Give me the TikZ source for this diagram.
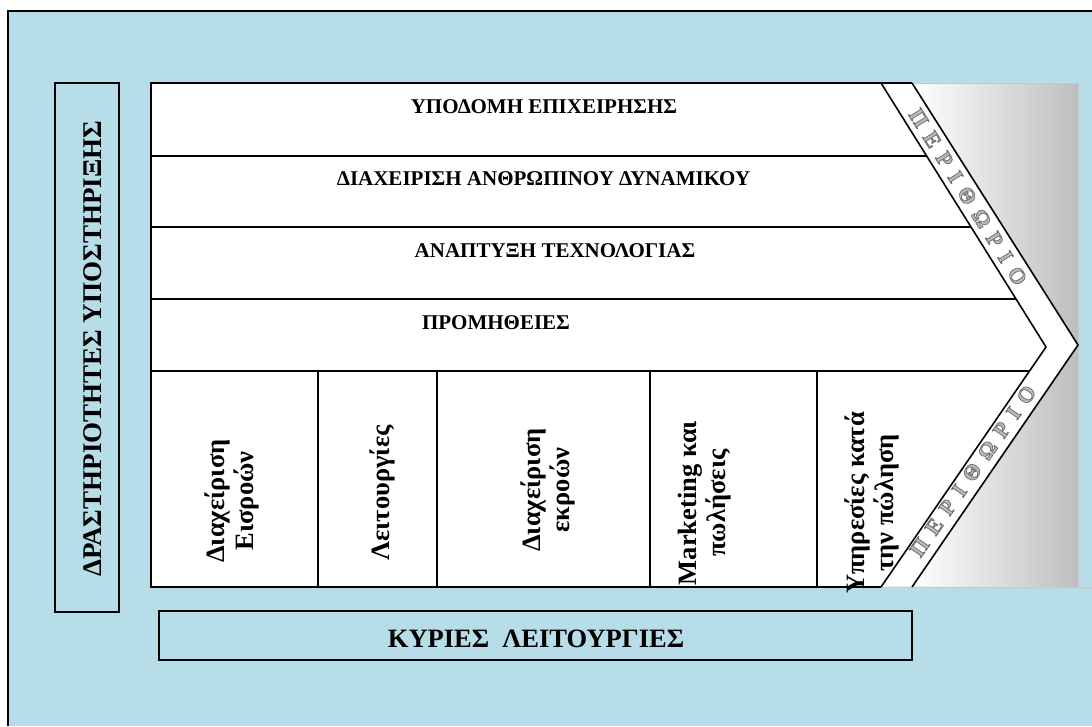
\documentclass[tikz,border=0pt]{standalone}
\usepackage{fontspec}
\setmainfont{Liberation Serif}
\newfontfamily\spacedfont[LetterSpace=43]{Liberation Serif}
\usetikzlibrary{calc}

\definecolor{paneblue}{RGB}{183,221,232}
\definecolor{margingray}{RGB}{190,190,190}
\definecolor{margintext}{RGB}{185,185,185}
\definecolor{edgegray}{RGB}{200,200,200}

% outlined (embossed) lettering: light fill with a darker grey stroke
\newcommand{\outlined}[1]{\special{pdf:literal direct 2 Tr 0.7 w 0.42 G}#1\special{pdf:literal direct 0 Tr}}

\begin{document}
\begin{tikzpicture}[x=1pt,y=-1pt,
  frame/.style={line width=1.6pt, line join=miter},
  thinedge/.style={line width=1pt, draw=edgegray},
  rowlabel/.style={font=\bfseries\fontsize{21}{24}\selectfont, inner sep=0pt, anchor=base},
  biglabel/.style={font=\bfseries\fontsize{26.5}{29}\selectfont, inner sep=0pt},
  collabel/.style={biglabel, rotate=90, align=center},
  marginword/.style={font=\spacedfont\bfseries\fontsize{22}{24}\selectfont, text=margintext, inner sep=0pt}]

\useasboundingbox (0,0) rectangle (1092,726);

% page and outer panel
\fill[white] (0,0) rectangle (1092,726);
\fill[paneblue] (8,11) rectangle (1092,726);
\draw[frame] (8,726) -- (8,11) -- (1092,11);

% chevron geometry
\coordinate (tl) at (151,83);
\coordinate (bl) at (151,587);
\coordinate (ia) at (881,83);
\coordinate (it) at (1046,347);
\coordinate (ib) at (881,587);
\coordinate (oa) at (912,83);
\coordinate (ot) at (1078,345);
\coordinate (ob) at (912,587);
\coordinate (gr) at (1078,83);
\coordinate (gb) at (1078,587);

% white body of the value chain
\fill[white] (tl) -- (oa) -- (ot) -- (ob) -- (bl) -- cycle;

% margin area shaded to the right
\shade[left color=white, right color=margingray] (oa) -- (gr) -- (ot) -- cycle;
\shade[left color=white, right color=margingray] (ot) -- (gb) -- (ob) -- cycle;
\draw[thinedge] (oa) -- (gr) -- (gb);
\draw[thinedge] (ib) -- (1092,588);

% outline of body and margin band
\draw[frame] (ib) -- (bl) -- (tl) -- (oa);
\draw[frame] (ia) -- (it) -- (ib);
\draw[frame] (oa) -- (ot) -- (ob);

% support activity rows
\draw[frame] (151,156) -- ($(ia)!0.2765!(it)$);
\draw[frame] (151,227) -- ($(ia)!0.5455!(it)$);
\draw[frame] (151,299) -- ($(ia)!0.8182!(it)$);
\draw[frame] (151,371) -- ($(it)!0.1!(ib)$);

% primary activity columns
\draw[frame] (318,371) -- (318,587);
\draw[frame] (437,371) -- (437,587);
\draw[frame] (650,371) -- (650,587);
\draw[frame] (817,371) -- (817,587);

% side and bottom boxes
\draw[frame] (55,83) rectangle (119,612);
\draw[frame] (159,611) rectangle (912,660);

% row labels
\node[rowlabel] (infra) at (544,113) {ΥΠΟΔΟΜΗ ΕΠΙΧΕΙΡΗΣΗΣ};
\node[rowlabel] (hr)    at (543.5,185) {ΔΙΑΧΕΙΡΙΣΗ ΑΝΘΡΩΠΙΝΟΥ ΔΥΝΑΜΙΚΟΥ};
\node[rowlabel] (tech)  at (555,257) {ΑΝΑΠΤΥΞΗ ΤΕΧΝΟΛΟΓΙΑΣ};
\node[rowlabel] (proc)  at (496,329) {ΠΡΟΜΗΘΕΙΕΣ};

% column labels
\node[collabel] (inb)  at (232,501) {Διαχείριση\\Εισροών};
\node[collabel] (ops)  at (382,493) {Λειτουργίες};
\node[collabel] (outb) at (548,490) {Διαχείριση\\εκροών};
\node[collabel] (mkt)  at (704.5,503) {Marketing και\\πωλήσεις};
\node[collabel] (srv)  at (871.5,503) {Υπηρεσίες κατά\\την πώληση};

% side and bottom captions
\node[biglabel, font=\bfseries\fontsize{27}{30}\selectfont, rotate=90] (support) at (92.5,348.5) {ΔΡΑΣΤΗΡΙΟΤΗΤΕΣ ΥΠΟΣΤΗΡΙΞΗΣ};
\node[biglabel, anchor=base] (primary) at (536,647) {ΚΥΡΙΕΣ\ \ ΛΕΙΤΟΥΡΓΙΕΣ};

% margin lettering along both arms of the chevron
\node[marginword, rotate=-58] (marginupper) at (968,197) {\outlined{ΠΕΡΙΘΩΡΙΟ}};
\node[marginword, rotate=55]  (marginlower) at (973,471) {\outlined{ΠΕΡΙΘΩΡΙΟ}};
\end{tikzpicture}
\end{document}
